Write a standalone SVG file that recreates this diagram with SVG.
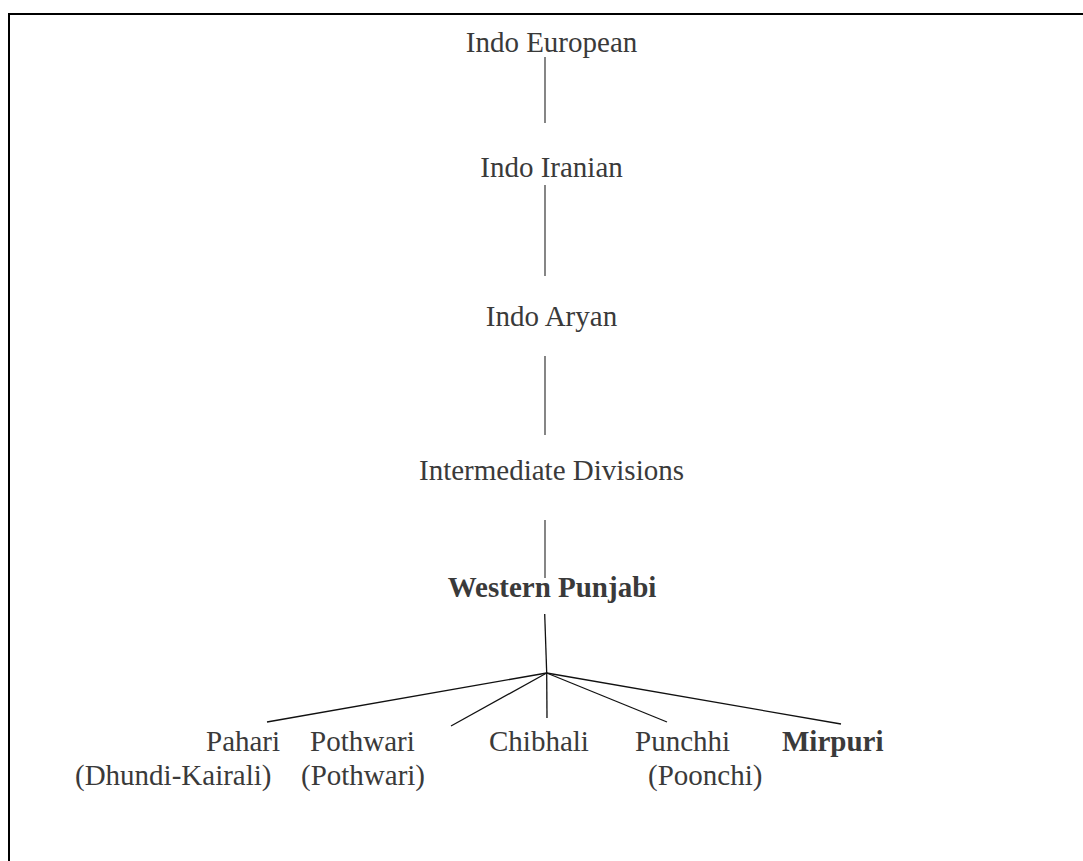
<svg xmlns="http://www.w3.org/2000/svg" width="1083" height="861" viewBox="0 0 1083 861">
  <style>
    .lbl { font-family: "Liberation Serif", "Times New Roman", serif; font-size: 29px; fill: #3a3a3a; }
    .mid { text-anchor: middle; }
    .bold { font-weight: bold; }
    .stem { stroke: #444; stroke-width: 1.3; fill: none; }
    .fan { stroke: #111; stroke-width: 1.3; fill: none; }
    .frame { stroke: #000; stroke-width: 2; fill: none; }
  </style>
  <rect width="1083" height="861" fill="#fff"/>

  <!-- page frame: only the top and left edges fall inside the view -->
  <path class="frame" d="M9 861 V14 H1083"/>

  <!-- connectors -->
  <g id="connectors">
    <line class="stem" x1="545" y1="57" x2="545" y2="123"/>
    <line class="stem" x1="545" y1="185" x2="545" y2="276"/>
    <line class="stem" x1="545" y1="356" x2="545" y2="435"/>
    <line class="stem" x1="545" y1="520" x2="545" y2="578"/>
    <line class="fan" x1="544.7" y1="614" x2="546.7" y2="673"/>
    <line class="fan" x1="546.7" y1="673" x2="267" y2="722"/>
    <line class="fan" x1="546.7" y1="673" x2="451" y2="726"/>
    <line class="fan" x1="546.7" y1="673" x2="547" y2="718"/>
    <line class="fan" x1="546.7" y1="673" x2="667" y2="722"/>
    <line class="fan" x1="546.7" y1="673" x2="841" y2="724"/>
  </g>

  <!-- family chain -->
  <g id="indo-european"><text class="lbl mid" x="551.5" y="52">Indo European</text></g>
  <g id="indo-iranian"><text class="lbl mid" x="551.5" y="177">Indo Iranian</text></g>
  <g id="indo-aryan"><text class="lbl mid" x="551.5" y="326">Indo Aryan</text></g>
  <g id="intermediate-divisions"><text class="lbl mid" x="551.5" y="480">Intermediate Divisions</text></g>
  <g id="western-punjabi"><text class="lbl mid bold" x="552" y="597">Western Punjabi</text></g>

  <!-- dialects -->
  <g id="pahari">
    <text class="lbl" x="206" y="751">Pahari</text>
    <text class="lbl" x="75" y="785">(Dhundi-Kairali)</text>
  </g>
  <g id="pothwari">
    <text class="lbl" x="310" y="751">Pothwari</text>
    <text class="lbl" x="301" y="785">(Pothwari)</text>
  </g>
  <g id="chibhali">
    <text class="lbl" x="489" y="751">Chibhali</text>
  </g>
  <g id="punchhi">
    <text class="lbl" x="635" y="751">Punchhi</text>
    <text class="lbl" x="648" y="785">(Poonchi)</text>
  </g>
  <g id="mirpuri">
    <text class="lbl bold" x="782" y="751">Mirpuri</text>
  </g>
</svg>
